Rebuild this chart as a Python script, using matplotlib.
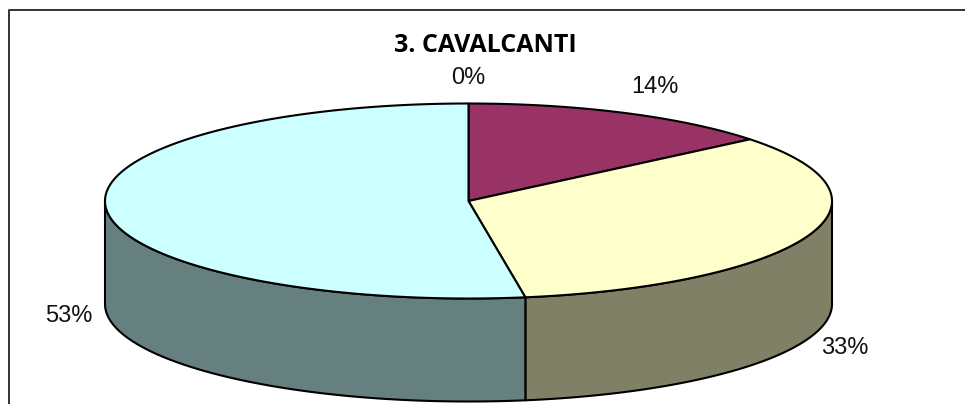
import numpy as np
import matplotlib
matplotlib.use("Agg")
import matplotlib.pyplot as plt
from matplotlib.patches import Polygon

title = "3. CAVALCANTI"
shares = [0.0, 14.1, 33.4, 52.5]
labels = ["0%", "14%", "33%", "53%"]
colors = ["#9999FF", "#993366", "#FFFFCC", "#CCFFFF"]
side_colors = ["#4C4C80", "#4D1A33", "#808066", "#668080"]

# pie geometry in image pixels
cx, cy = 468.5, 201
rx, ry = 363.5, 97.5
depth = 103
label_pos = [(468, 78), (655, 87), (845, 348), (69, 316)]

def arc(a0, a1, dy=0):
    t = np.radians(np.linspace(a0, a1, max(int(abs(a1 - a0)) * 2, 2)))
    return np.column_stack([cx + rx * np.sin(t), cy - ry * np.cos(t) + dy])

fig = plt.figure(figsize=(9.65, 4.04), dpi=100)
ax = fig.add_axes([0, 0, 1, 1])
ax.set_xlim(0, 965)
ax.set_ylim(404, 0)
ax.axis("off")

# chart frame, the crop cuts it off right and bottom
ax.plot([8.5, 8.5, 965], [404, 10, 10], color="#333333", lw=1.4, clip_on=False)

edges = np.cumsum([0] + shares) * 3.6

# side walls: only the front half of the rim shows
for i in range(len(shares)):
    a0 = max(edges[i], 90)
    a1 = min(edges[i + 1], 270)
    if a1 > a0:
        top = arc(a0, a1)
        bottom = arc(a1, a0, depth)
        ax.add_patch(Polygon(np.vstack([top, bottom]), closed=True, facecolor=side_colors[i],
                             edgecolor="black", lw=1.5, joinstyle="round"))

# top faces
for i in range(len(shares)):
    if shares[i] > 0:
        pts = np.vstack([[cx, cy], arc(edges[i], edges[i + 1])])
        ax.add_patch(Polygon(pts, closed=True, facecolor=colors[i], edgecolor="black",
                             lw=1.5, joinstyle="round"))

for lab, (x, y) in zip(labels, label_pos):
    ax.text(x, y, lab, ha="center", va="center", fontsize=17, family="Liberation Sans", color="#111111")

ax.text(485, 46, title, ha="center", va="center", fontsize=18, fontweight="bold",
        family="Open Sans", color="black")

fig.savefig("out.png", dpi=100)
